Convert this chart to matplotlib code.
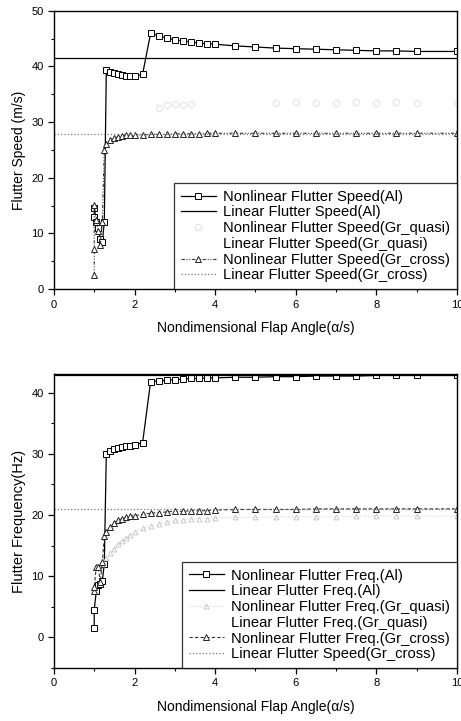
import matplotlib
matplotlib.use("Agg")
import matplotlib.pyplot as plt
from matplotlib.ticker import MultipleLocator

plt.rcParams['font.family'] = ['Liberation Sans', 'DejaVu Sans']

# ---------- data: top (flutter speed) ----------
x_al_s = [1.0, 1.0, 1.05, 1.1, 1.15, 1.2, 1.25, 1.3, 1.4, 1.5, 1.6, 1.7, 1.8, 1.9, 2.0, 2.2,
          2.4, 2.6, 2.8, 3.0, 3.2, 3.4, 3.6, 3.8, 4.0, 4.5, 5.0, 5.5, 6.0, 6.5, 7.0, 7.5,
          8.0, 8.5, 9.0, 10.0]
y_al_s = [13.0, 14.5, 12.0, 11.0, 9.0, 8.5, 12.0, 39.3, 39.0, 38.8, 38.6, 38.4, 38.3, 38.2, 38.2, 38.6,
          46.0, 45.5, 45.1, 44.8, 44.6, 44.4, 44.2, 44.1, 44.0, 43.7, 43.5, 43.3, 43.2, 43.1, 43.0, 42.9,
          42.8, 42.8, 42.7, 42.7]
lin_al_s = 41.5

x_gc_s = [1.0, 1.0, 1.0, 1.05, 1.1, 1.15, 1.2, 1.25, 1.3, 1.4, 1.5, 1.6, 1.7, 1.8, 1.9, 2.0, 2.2,
          2.4, 2.6, 2.8, 3.0, 3.2, 3.4, 3.6, 3.8, 4.0, 4.5, 5.0, 5.5, 6.0, 6.5, 7.0, 7.5,
          8.0, 8.5, 9.0, 10.0]
y_gc_s = [2.5, 7.2, 15.2, 12.5, 10.5, 8.0, 12.0, 25.0, 26.0, 26.8, 27.2, 27.4, 27.5, 27.6, 27.6, 27.7, 27.7,
          27.8, 27.8, 27.8, 27.9, 27.9, 27.9, 27.9, 28.0, 28.0, 28.0, 28.0, 28.0, 28.0, 28.0, 28.0, 28.0,
          28.0, 28.0, 28.0, 28.0]
lin_gc_s = 27.8

x_gq_s = [2.6, 2.8, 3.0, 3.2, 3.4, 5.5, 6.0, 6.5, 7.0, 7.5, 8.0, 8.5, 9.0, 10.0]
y_gq_s = [32.5, 33.0, 33.2, 33.0, 33.3, 33.5, 33.6, 33.4, 33.5, 33.6, 33.5, 33.6, 33.5, 33.5]
lin_gq_s = 33.4

# ---------- data: bottom (flutter frequency) ----------
x_al_f = [1.0, 1.0, 1.05, 1.1, 1.15, 1.2, 1.25, 1.3, 1.4, 1.5, 1.6, 1.7, 1.8, 1.9, 2.0, 2.2,
          2.4, 2.6, 2.8, 3.0, 3.2, 3.4, 3.6, 3.8, 4.0, 4.5, 5.0, 5.5, 6.0, 6.5, 7.0, 7.5,
          8.0, 8.5, 9.0, 10.0]
y_al_f = [1.5, 4.5, 7.5, 8.5, 8.8, 9.2, 12.0, 30.0, 30.5, 30.8, 31.0, 31.1, 31.2, 31.3, 31.5, 31.8,
          41.8, 41.9, 42.0, 42.1, 42.2, 42.3, 42.3, 42.4, 42.4, 42.5, 42.5, 42.6, 42.6, 42.7, 42.7, 42.7,
          42.8, 42.8, 42.8, 42.8]
lin_al_f = 42.9

x_gc_f = [1.0, 1.0, 1.05, 1.1, 1.15, 1.2, 1.25, 1.3, 1.4, 1.5, 1.6, 1.7, 1.8, 1.9, 2.0, 2.2,
          2.4, 2.6, 2.8, 3.0, 3.2, 3.4, 3.6, 3.8, 4.0, 4.5, 5.0, 5.5, 6.0, 6.5, 7.0, 7.5,
          8.0, 8.5, 9.0, 10.0]
y_gc_f = [7.5, 8.2, 11.5, 11.5, 9.0, 12.3, 16.5, 17.2, 18.0, 18.7, 19.1, 19.4, 19.6, 19.8, 19.9, 20.1,
          20.3, 20.4, 20.5, 20.6, 20.6, 20.7, 20.7, 20.7, 20.8, 20.9, 20.9, 20.9, 20.9, 21.0, 21.0, 21.0,
          21.0, 21.0, 21.0, 21.0]
lin_gc_f = 20.9

x_gq_f = [1.2, 1.3, 1.4, 1.5, 1.6, 1.7, 1.8, 1.9, 2.0, 2.2, 2.4, 2.6, 2.8, 3.0, 3.2, 3.4, 3.6, 3.8,
          4.0, 4.5, 5.0, 5.5, 6.0, 6.5, 7.0, 7.5, 8.0, 8.5, 9.0, 10.0]
y_gq_f = [12.0, 13.0, 13.8, 14.5, 15.2, 15.8, 16.3, 16.8, 17.2, 17.8, 18.2, 18.6, 18.9, 19.1, 19.2, 19.3, 19.4, 19.4,
          19.5, 19.6, 19.6, 19.7, 19.7, 19.7, 19.7, 19.8, 19.8, 19.8, 19.8, 19.8]
lin_gq_f = 19.7

fig = plt.figure(figsize=(4.61, 7.21), dpi=100)
ax1 = fig.add_axes([0.117, 0.599, 0.874, 0.386])
ax2 = fig.add_axes([0.117, 0.0735, 0.874, 0.4075])

ms = 4.5
# top chart
ax1.plot(x_al_s, y_al_s, '-', color='black', lw=0.9, marker='s', ms=ms, mfc='white', mec='black', mew=0.7,
         label='Nonlinear Flutter Speed(Al)')
ax1.axhline(lin_al_s, color='black', lw=0.9, label='Linear Flutter Speed(Al)')
ax1.plot(x_gq_s, y_gq_s, ls='none', marker='o', ms=ms, mfc='white', mec='#e0e0e0', mew=0.7,
         label='Nonlinear Flutter Speed(Gr_quasi)')
ax1.axhline(lin_gq_s, color='white', lw=0.0, label='Linear Flutter Speed(Gr_quasi)')
ax1.plot(x_gc_s, y_gc_s, color='#333333', lw=0.8, ls=(0, (3, 1.5, 1, 1.5, 1, 1.5)), marker='^', ms=ms,
         mfc='white', mec='#222222', mew=0.7, label='Nonlinear Flutter Speed(Gr_cross)')
ax1.axhline(lin_gc_s, color='#777777', lw=0.9, ls=':', label='Linear Flutter Speed(Gr_cross)')

ax1.set_xlim(0, 10)
ax1.set_ylim(0, 50)
ax1.set_ylabel('Flutter Speed (m/s)', fontsize=10)
ax1.set_xlabel('Nondimensional Flap Angle(\u03b1/s)', fontsize=10, labelpad=8)

# bottom chart
ax2.plot(x_al_f, y_al_f, '-', color='black', lw=0.9, marker='s', ms=ms, mfc='white', mec='black', mew=0.7,
         label='Nonlinear Flutter Freq.(Al)')
ax2.axhline(lin_al_f, color='black', lw=0.9, label='Linear Flutter Freq.(Al)')
ax2.plot(x_gq_f, y_gq_f, color='#d0d0d0', lw=0.7, ls=':', marker='^', ms=ms - 1, mfc='white', mec='#c0c0c0',
         mew=0.6, label='Nonlinear Flutter Freq.(Gr_quasi)')
ax2.axhline(lin_gq_f, color='white', lw=0.0, label='Linear Flutter Freq.(Gr_quasi)')
ax2.plot(x_gc_f, y_gc_f, color='#333333', lw=0.8, ls=(0, (3, 2)), marker='^', ms=ms,
         mfc='white', mec='#222222', mew=0.7, label='Nonlinear Flutter Freq.(Gr_cross)')
ax2.axhline(lin_gc_f, color='#777777', lw=0.9, ls=':', label='Linear Flutter Speed(Gr_cross)')

ax2.set_xlim(0, 10)
ax2.set_ylim(-5, 43)
ax2.set_ylabel('Flutter Frequency(Hz)', fontsize=10.5)
ax2.set_xlabel('Nondimensional Flap Angle(\u03b1/s)', fontsize=10, labelpad=8)

for ax in (ax1, ax2):
    ax.xaxis.set_major_locator(MultipleLocator(2))
    ax.xaxis.set_minor_locator(MultipleLocator(1))
    ax.yaxis.set_major_locator(MultipleLocator(10))
    ax.yaxis.set_minor_locator(MultipleLocator(5))
    ax.tick_params(which='major', direction='out', length=4, width=0.9, labelsize=8)
    ax.tick_params(which='minor', direction='out', length=2, width=0.8)
    for s in ax.spines.values():
        s.set_linewidth(1.0)
    leg = ax.legend(loc='lower right', fontsize=10.6, frameon=True, fancybox=False, borderaxespad=0,
                    handlelength=2.4, handletextpad=0.5, labelspacing=0.12, borderpad=0.45)
    leg.get_frame().set_edgecolor('black')
    leg.get_frame().set_linewidth(0.9)

fig.savefig('out.png', dpi=100)
